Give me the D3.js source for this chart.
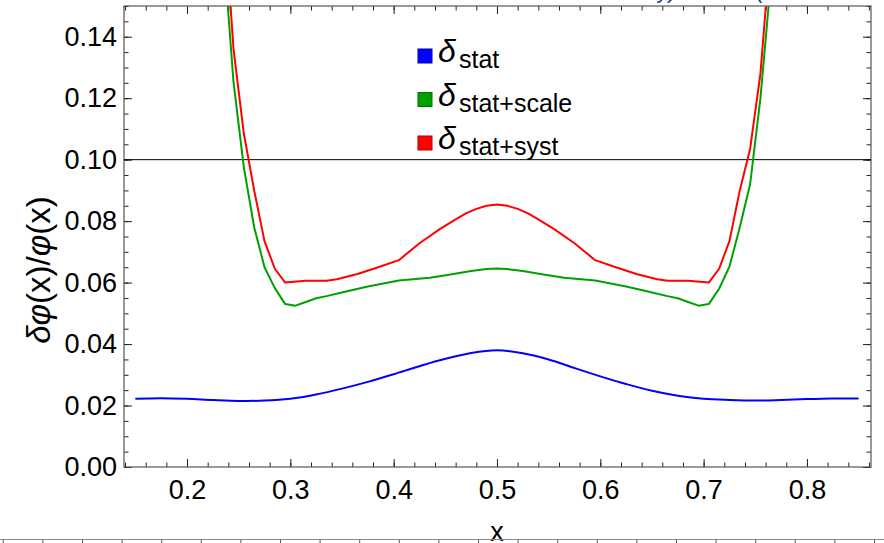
<!DOCTYPE html>
<html><head><meta charset="utf-8">
<script src="https://cdn.jsdelivr.net/npm/d3@7/dist/d3.min.js"></script>
<style>
body{margin:0;background:#fff}
svg{display:block}
text{font-family:"Liberation Sans",Arial,sans-serif}
</style>
</head><body>
<svg id="chart" width="884" height="543"></svg>
<script>
// ---- data ----
const statX = [0.15,0.175,0.2,0.225,0.25,0.275,0.3,0.325,0.35,0.375,0.4,0.425,0.45,0.475,0.5,
               0.525,0.55,0.575,0.6,0.625,0.65,0.675,0.7,0.725,0.75,0.775,0.8,0.825,0.85];
const statY = [0.0222,0.0224,0.0222,0.0218,0.0215,0.0216,0.0222,0.0236,0.0255,0.0277,0.0302,0.0328,0.0352,0.0371,0.0380,
               0.0370,0.0350,0.0322,0.0295,0.0270,0.0248,0.0232,0.0222,0.0218,0.0216,0.0218,0.0221,0.0223,0.0223];

const scaleX = [0.235,0.245,0.255,0.265,0.275,0.285,0.295,0.305,0.315,0.325,0.335,0.355,0.375,0.395,0.405,0.435,0.455,0.475,0.49,0.5,
                0.51,0.525,0.545,0.565,0.595,0.605,0.625,0.645,0.665,0.675,0.685,0.695,0.705,0.715,0.725,0.735,0.745,0.755,0.765];
const scaleY = [0.170,0.1252,0.0975,0.0780,0.0650,0.0582,0.0530,0.0525,0.0537,0.0549,0.0556,0.0572,0.0587,0.0600,0.0607,0.0616,0.0626,0.0638,0.0644,0.0646,
                0.0644,0.0638,0.0626,0.0616,0.0607,0.0600,0.0587,0.0572,0.0556,0.0549,0.0537,0.0525,0.0530,0.0580,0.0652,0.0780,0.0920,0.1200,0.1580];

const systX = [0.235,0.245,0.255,0.265,0.275,0.285,0.295,0.315,0.335,0.345,0.365,0.385,0.405,0.425,0.445,0.46,0.47,0.48,0.49,0.5,
               0.51,0.52,0.53,0.54,0.555,0.575,0.595,0.615,0.635,0.655,0.665,0.685,0.705,0.715,0.725,0.735,0.745,0.755,0.765];
const systY = [0.185,0.136,0.1085,0.0900,0.0735,0.0645,0.0600,0.0606,0.0606,0.0611,0.0628,0.0650,0.0673,0.0728,0.0775,0.0806,0.0825,0.0840,0.0850,0.0854,
               0.0850,0.0840,0.0825,0.0806,0.0775,0.0728,0.0673,0.0650,0.0628,0.0611,0.0606,0.0606,0.0600,0.0645,0.0735,0.0900,0.1035,0.1280,0.1700];

const seriesNames = ["stat","stat+scale","stat+syst"];
const seriesColors = ["#0000ff","#00a000","#ff0000"];
const xTicks = [0.2,0.3,0.4,0.5,0.6,0.7,0.8];
const xTickLabels = ["0.2","0.3","0.4","0.5","0.6","0.7","0.8"];
const yTicks = [0,0.02,0.04,0.06,0.08,0.10,0.12,0.14];
const yTickLabels = ["0.00","0.02","0.04","0.06","0.08","0.10","0.12","0.14"];
const refLine = 0.10;

// ---- layout ----
const L=124, R=871, T=6, B=467;
const svg = d3.select("#chart");
const x = d3.scaleLinear().domain([0.139,0.862]).range([L,R]);
const y = d3.scaleLinear().domain([0,0.15]).range([B,T]);

svg.append("defs").append("clipPath").attr("id","clip")
  .append("rect").attr("x",L).attr("y",T).attr("width",R-L).attr("height",B-T);

// minor ticks
const xMinor = d3.range(0.14,0.861,0.02);
const yMinor = d3.range(0,0.1501,0.005);

function styleAxis(g){ g.select(".domain").remove(); g.selectAll("line").attr("stroke","#222"); }

svg.append("g").attr("transform",`translate(0,${B})`)
  .call(d3.axisBottom(x).tickValues(xMinor).tickFormat("").tickSize(-4.5).tickSizeOuter(0)).call(styleAxis);
svg.append("g").attr("transform",`translate(0,${T})`)
  .call(d3.axisTop(x).tickValues(xMinor).tickFormat("").tickSize(-4.5).tickSizeOuter(0)).call(styleAxis);
svg.append("g").attr("transform",`translate(${L},0)`)
  .call(d3.axisLeft(y).tickValues(yMinor).tickFormat("").tickSize(-4.5).tickSizeOuter(0)).call(styleAxis);
svg.append("g").attr("transform",`translate(${R},0)`)
  .call(d3.axisRight(y).tickValues(yMinor).tickFormat("").tickSize(-4.5).tickSizeOuter(0)).call(styleAxis);

// major ticks
const gxb = svg.append("g").attr("transform",`translate(0,${B})`)
  .call(d3.axisBottom(x).tickValues(xTicks).tickFormat((d,i)=>xTickLabels[i]).tickSize(-8).tickSizeOuter(0).tickPadding(13));
styleAxis(gxb);
svg.append("g").attr("transform",`translate(0,${T})`)
  .call(d3.axisTop(x).tickValues(xTicks).tickFormat("").tickSize(-8).tickSizeOuter(0)).call(styleAxis);
const gyl = svg.append("g").attr("transform",`translate(${L},0)`)
  .call(d3.axisLeft(y).tickValues(yTicks).tickFormat((d,i)=>yTickLabels[i]).tickSize(-8).tickSizeOuter(0).tickPadding(7));
styleAxis(gyl);
svg.append("g").attr("transform",`translate(${R},0)`)
  .call(d3.axisRight(y).tickValues(yTicks).tickFormat("").tickSize(-8).tickSizeOuter(0)).call(styleAxis);

svg.selectAll("g text").attr("font-family","'Liberation Sans',Arial,sans-serif").attr("font-size",27).attr("fill","#000");

// frame
svg.append("rect").attr("x",L).attr("y",T).attr("width",R-L).attr("height",B-T)
  .attr("fill","none").attr("stroke","#555").attr("stroke-width",1.2);

// reference line
svg.append("line").attr("x1",L).attr("x2",R).attr("y1",y(refLine)).attr("y2",y(refLine))
  .attr("stroke","#000").attr("stroke-width",1);

// curves
const plot = svg.append("g").attr("clip-path","url(#clip)");
const smooth = d3.line().x(d=>x(d[0])).y(d=>y(d[1])).curve(d3.curveCatmullRom);
const poly = d3.line().x(d=>x(d[0])).y(d=>y(d[1]));
plot.append("path").datum(statX.map((v,i)=>[v,statY[i]])).attr("d",smooth)
  .attr("fill","none").attr("stroke",seriesColors[0]).attr("stroke-width",2);
plot.append("path").datum(scaleX.map((v,i)=>[v,scaleY[i]])).attr("d",poly)
  .attr("fill","none").attr("stroke",seriesColors[1]).attr("stroke-width",2).attr("stroke-linejoin","round");
plot.append("path").datum(systX.map((v,i)=>[v,systY[i]])).attr("d",poly)
  .attr("fill","none").attr("stroke",seriesColors[2]).attr("stroke-width",2).attr("stroke-linejoin","round");

// legend
const leg = svg.append("g");
seriesNames.forEach((name,i)=>{
  const by = 62 + i*43.5;
  leg.append("rect").attr("x",418).attr("y",by-13).attr("width",14).attr("height",14)
    .attr("fill",seriesColors[i]).attr("stroke",d3.color(seriesColors[i]).darker(1)).attr("stroke-width",1);
  leg.append("text").attr("x",438).attr("y",by).attr("font-size",32).attr("font-style","italic").text("δ");
  leg.append("text").attr("x",459).attr("y",by+6).attr("font-size",25).text(name);
});

// axis titles
svg.append("text").attr("transform","translate(50,270) rotate(-90)").attr("text-anchor","middle")
  .attr("font-size",33).html('<tspan font-style="italic">δφ</tspan>(x)/<tspan font-style="italic">φ</tspan>(x)');
svg.append("text").attr("x",x(0.5)).attr("y",541).attr("text-anchor","middle").attr("font-size",27).text("x");

// partial elements of the neighbouring panels (cropped)
svg.append("text").attr("x",658).attr("y",-2).attr("font-size",22).attr("font-style","italic").attr("fill","#1f3a78").text("y)");
svg.append("text").attr("x",755).attr("y",-2).attr("font-size",22).attr("fill","#1f3a78").text("(");
const xb = d3.scaleLinear().domain([0,22]).range([2.8,874]);
const gb = svg.append("g").attr("transform","translate(0,539.5)")
  .call(d3.axisBottom(xb).ticks(22).tickFormat("").tickSize(5).tickSizeOuter(0));
gb.select(".domain").attr("d","M0,0H884").attr("stroke","#888");
gb.selectAll("line").attr("stroke","#555");
</script>
</body></html>
